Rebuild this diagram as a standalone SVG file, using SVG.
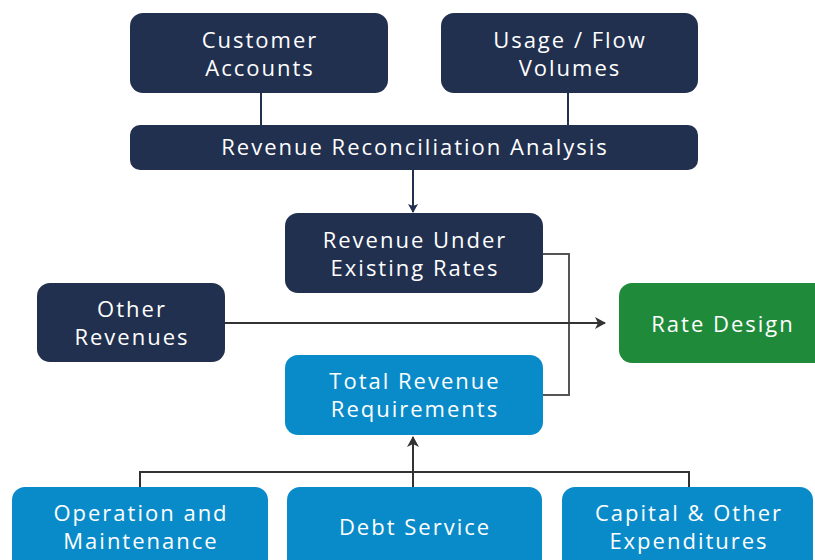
<svg xmlns="http://www.w3.org/2000/svg" width="815" height="560" viewBox="0 0 815 560">
<style>
.navy{fill:#22304f}
.blue{fill:#0a8bc9}
.green{fill:#1f8b3a}
text{font-family:"Open Sans","Liberation Sans",sans-serif;font-size:22px;fill:#ffffff;text-anchor:middle;letter-spacing:2px}
.c{fill:none;stroke-width:2}
</style>
<defs>
<marker id="an" markerWidth="10" markerHeight="10" refX="8" refY="5" orient="auto" markerUnits="userSpaceOnUse"><path d="M0,0 L9,5 L0,10 L2,5 Z" fill="#22304f"/></marker>
<marker id="ag" markerWidth="12" markerHeight="12" refX="10" refY="6" orient="auto" markerUnits="userSpaceOnUse"><path d="M0,0 L11,6 L0,12 L3,6 Z" fill="#333"/></marker>
</defs>
<g id="connectors">
<line class="c" x1="261" y1="93" x2="261" y2="126" stroke="#22304f"/>
<line class="c" x1="568" y1="93" x2="568" y2="126" stroke="#22304f"/>
<line class="c" x1="413" y1="170" x2="413" y2="212" stroke="#22304f" marker-end="url(#an)"/>
<polyline class="c" points="543,254 569,254 569,395 543,395" stroke="#555"/>
<line class="c" x1="225" y1="323" x2="605" y2="323" stroke="#333" marker-end="url(#ag)"/>
<polyline class="c" points="140,488 140,472 689,472 689,488" stroke="#333"/>
<line class="c" x1="413" y1="488" x2="413" y2="437" stroke="#333" marker-end="url(#ag)"/>
</g>
<g id="customer-accounts"><rect class="navy" x="130" y="13" width="258" height="80" rx="13"/><text x="260" y="48">Customer</text><text x="260" y="76">Accounts</text></g>
<g id="usage-flow"><rect class="navy" x="441" y="13" width="257" height="80" rx="13"/><text x="570" y="48">Usage / Flow</text><text x="570" y="76">Volumes</text></g>
<g id="reconciliation"><rect class="navy" x="130" y="125" width="568" height="45" rx="10"/><text x="415" y="155">Revenue Reconciliation Analysis</text></g>
<g id="revenue-under"><rect class="navy" x="285" y="213" width="258" height="80" rx="13"/><text x="415" y="248">Revenue Under</text><text x="415" y="276">Existing Rates</text></g>
<g id="other-revenues"><rect class="navy" x="37" y="283" width="188" height="79" rx="13"/><text x="132" y="317">Other</text><text x="132" y="345">Revenues</text></g>
<g id="rate-design"><rect class="green" x="619" y="283" width="210" height="80" rx="13"/><text x="723" y="332">Rate Design</text></g>
<g id="total-revenue"><rect class="blue" x="285" y="355" width="258" height="80" rx="13"/><text x="415" y="389">Total Revenue</text><text x="415" y="417">Requirements</text></g>
<g id="operation"><rect class="blue" x="12" y="487" width="256" height="90" rx="13"/><text x="141" y="521">Operation and</text><text x="141" y="549">Maintenance</text></g>
<g id="debt-service"><rect class="blue" x="287" y="487" width="255" height="90" rx="13"/><text x="415" y="535">Debt Service</text></g>
<g id="capital"><rect class="blue" x="562" y="487" width="251" height="90" rx="13"/><text x="689" y="521">Capital &amp; Other</text><text x="689" y="549">Expenditures</text></g>
</svg>
